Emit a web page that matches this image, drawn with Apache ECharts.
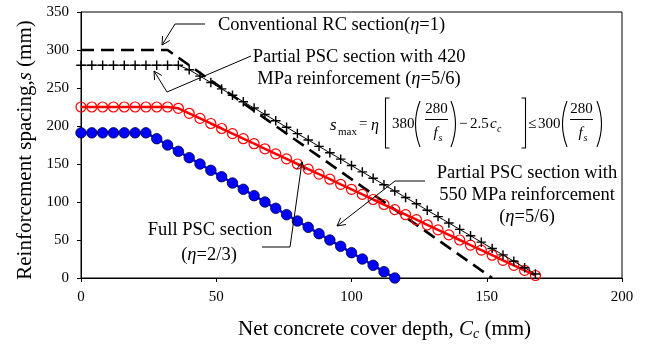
<!DOCTYPE html>
<html>
<head>
<meta charset="utf-8">
<script src="https://cdn.jsdelivr.net/npm/echarts@6.0.0/dist/echarts.min.js"></script>
<style>
  html, body { margin: 0; padding: 0; background: #fff; }
  #chart { width: 646px; height: 345px; }
</style>
</head>
<body>
<div id="chart"></div>
<script>
// Axis ticks
const xTicks = [0, 50, 100, 150, 200];
const yTicks = [0, 50, 100, 150, 200, 250, 300, 350];

// Conventional RC section (eta = 1)
const coverRC = [0, 32, 152];
const spacingRC = [300, 300, 0];

// Partial PSC section, 420 MPa reinforcement (eta = 5/6)
const cover420 = [0, 4, 8, 12, 16, 20, 24, 28, 32, 36, 40, 44, 48, 52, 56, 60, 64, 68, 72, 76, 80,
  84, 88, 92, 96, 100, 104, 108, 112, 116, 120, 124, 128, 132, 136, 140, 144, 148, 152, 156, 160, 164, 168];
const spacing420 = [280, 280, 280, 280, 280, 280, 280, 280, 280, 280, 274, 265.6, 257.2, 248.8, 240.4,
  232, 223.6, 215.2, 206.8, 198.4, 190, 181.6, 173.2, 164.8, 156.4, 148, 139.6, 131.2, 122.8, 114.4,
  106, 97.6, 89.2, 80.8, 72.4, 64, 55.6, 47.2, 38.8, 30.4, 22, 13.6, 5.2];

// Partial PSC section, 550 MPa reinforcement (eta = 5/6)
const cover550 = [0, 4, 8, 12, 16, 20, 24, 28, 32, 36, 40, 44, 48, 52, 56, 60, 64, 68, 72, 76, 80,
  84, 88, 92, 96, 100, 104, 108, 112, 116, 120, 124, 128, 132, 136, 140, 144, 148, 152, 156, 160, 164, 168];
const spacing550 = [225, 225, 225, 225, 225, 225, 225, 225, 225, 223.3, 216.7, 210, 203.3, 196.7, 190,
  183.3, 176.7, 170, 163.3, 156.7, 150, 143.3, 136.7, 130, 123.3, 116.7, 110, 103.3, 96.7, 90,
  83.3, 76.7, 70, 63.3, 56.7, 50, 43.3, 36.7, 30, 23.3, 16.7, 10, 3.3];

// Full PSC section (eta = 2/3)
const coverFull = [0, 4, 8, 12, 16, 20, 24, 28, 32, 36, 40, 44, 48, 52, 56, 60, 64, 68, 72, 76, 80,
  84, 88, 92, 96, 100, 104, 108, 112, 116];
const spacingFull = [191, 191, 191, 191, 191, 191, 191, 183.3, 175, 166.7, 158.3, 150, 141.7, 133.3,
  125, 116.7, 108.3, 100, 91.7, 83.3, 75, 66.7, 58.3, 50, 41.7, 33.3, 25, 16.7, 8.3, 0];

const serif = '"Liberation Serif", "Times New Roman", Times, serif';
const pairs = (xs, ys) => xs.map((x, i) => [x, ys[i]]);
const plusPath = 'path://M4.25,0H5.75V4.25H10V5.75H5.75V10H4.25V5.75H0V4.25H4.25Z';

// ---- annotation helpers ----
function text(x, y, str, size, align, rich, italic) {
  return {
    type: 'text', x: x, y: y, z: 100, silent: true,
    style: {
      text: str, fill: '#000', fontFamily: serif, fontSize: size,
      fontStyle: italic ? 'italic' : 'normal',
      align: align || 'left', verticalAlign: 'middle',
      textAlign: align || 'left', textVerticalAlign: 'middle',
      rich: rich || {}
    }
  };
}
function poly(points, width) {
  return {
    type: 'polyline', z: 100, silent: true,
    shape: { points: points },
    style: { stroke: '#000', lineWidth: width || 1, fill: null }
  };
}
function leader(points) {
  const n = points.length;
  const tip = points[n - 1], prev = points[n - 2];
  const dx = tip[0] - prev[0], dy = tip[1] - prev[1];
  const len = Math.hypot(dx, dy);
  const ux = dx / len, uy = dy / len;
  const L = 9, a = 28 * Math.PI / 180;
  const h1 = [tip[0] - L * (ux * Math.cos(a) - uy * Math.sin(a)), tip[1] - L * (uy * Math.cos(a) + ux * Math.sin(a))];
  const h2 = [tip[0] - L * (ux * Math.cos(a) + uy * Math.sin(a)), tip[1] - L * (uy * Math.cos(a) - ux * Math.sin(a))];
  return [poly(points), poly([h1, tip, h2])];
}
function paren(x, y1, y2, bulge) {
  return {
    type: 'bezierCurve', z: 100, silent: true,
    shape: { x1: x, y1: y1, x2: x, y2: y2, cpx1: x + bulge, cpy1: (y1 + y2) / 2 },
    style: { stroke: '#000', lineWidth: 1.1, fill: null }
  };
}
const ital = { i: { fontStyle: 'italic', fontFamily: serif, fontSize: 18.5, verticalAlign: 'middle' } };

// fraction 280 / f_s centred at cx
function frac(cx, x0, x1) {
  return [
    text(cx, 109, '280', 15, 'center'),
    poly([[x0, 119.5], [x1, 119.5]]),
    text(cx - 3, 133, 'f', 15, 'left', null, true),
    text(cx + 2, 138, 's', 10, 'left', null, true)
  ];
}

const yTitle = text(25, 150, 'Reinforcement spacing,{i|s} (mm)', 21, 'center',
  { i: { fontStyle: 'italic', fontFamily: serif, fontSize: 21 } });
yTitle.rotation = Math.PI / 2;

const graphics = [].concat(
  // axis titles
  yTitle,
  text(238, 329, 'Net concrete cover depth, {i|C}{sub|c} (mm)', 21, 'left', {
    i: { fontStyle: 'italic', fontFamily: serif, fontSize: 21, verticalAlign: 'middle' },
    sub: { fontStyle: 'italic', fontFamily: serif, fontSize: 14, verticalAlign: 'middle', padding: [10, 0, 0, 0] }
  }),

  // Conventional RC label
  text(218, 25, 'Conventional RC section({i|η}=1)', 18.5, 'left', ital),
  leader([[205, 24], [175, 24], [162, 45]]),

  // 420 MPa label
  text(359, 57, 'Partial PSC section with 420', 18.5, 'center', ital),
  text(359, 79, 'MPa reinforcement ({i|η}=5/6)', 18.5, 'center', ital),
  leader([[251, 56], [167, 92], [154, 71]]),

  // 550 MPa label
  text(527, 173, 'Partial PSC section with', 18.5, 'center', ital),
  text(527, 195, '550 MPa reinforcement', 18.5, 'center', ital),
  text(527, 217, '({i|η}=5/6)', 18.5, 'center', ital),
  leader([[425, 181], [395, 181], [337, 226]]),

  // Full PSC label
  text(210, 230, 'Full PSC section', 18.5, 'center', ital),
  text(209, 255, '({i|η}=2/3)', 18.5, 'center', ital),
  leader([[262, 247], [290, 247], [302, 162]]),

  // Code equation for maximum spacing
  text(330, 126, 's', 17, 'left', null, true),
  text(338, 132, 'max', 11),
  text(359, 124, '=', 15),
  text(371, 126, 'η', 16, 'left', null, true),
  poly([[389.5, 98], [385.5, 98], [385.5, 148], [389.5, 148]], 1.1),
  text(392, 124, '380', 15),
  paren(420, 101, 147, -9),
  frac(436.5, 425, 448),
  paren(451, 101, 147, 9),
  text(459, 124, '−', 15),
  text(470, 124, '2.5', 15),
  text(490, 124, 'c', 15, 'left', null, true),
  text(497, 129, 'c', 10, 'left', null, true),
  poly([[521.5, 98], [525.5, 98], [525.5, 148], [521.5, 148]], 1.1),
  text(528, 124, '≤', 15),
  text(538, 124, '300', 15),
  paren(567, 101, 147, -9),
  frac(581.5, 570, 593),
  paren(597, 101, 147, 9)
);

const chart = echarts.init(document.getElementById('chart'), null, { renderer: 'canvas' });
chart.setOption({
  animation: false,
  backgroundColor: '#fff',
  grid: {
    left: 81, right: 24, top: 12, bottom: 67,
    containLabel: false, outerBoundsMode: 'none',
    show: true, borderColor: '#000', borderWidth: 1, backgroundColor: 'transparent'
  },
  xAxis: {
    type: 'value',
    min: xTicks[0], max: xTicks[xTicks.length - 1], interval: xTicks[1] - xTicks[0],
    axisLine: { show: true, onZero: false, lineStyle: { color: '#000', width: 1 } },
    axisTick: { show: true, inside: false, length: 4, lineStyle: { color: '#000' } },
    axisLabel: { color: '#000', fontFamily: serif, fontSize: 15, margin: 12 },
    splitLine: { show: false }
  },
  yAxis: {
    type: 'value',
    min: yTicks[0], max: yTicks[yTicks.length - 1], interval: yTicks[1] - yTicks[0],
    axisLine: { show: true, onZero: false, lineStyle: { color: '#000', width: 1 } },
    axisTick: { show: true, inside: false, length: 4, lineStyle: { color: '#000' } },
    axisLabel: { color: '#000', fontFamily: serif, fontSize: 15, margin: 12 },
    splitLine: { show: false }
  },
  series: [
    {
      name: 'Conventional RC section', type: 'line', data: pairs(coverRC, spacingRC),
      symbol: 'none', silent: true, z: 2,
      lineStyle: { color: '#000', width: 2.6, type: [13, 7] }
    },
    {
      name: 'Partial PSC 550 MPa', type: 'line', data: pairs(cover550, spacing550),
      symbol: 'circle', symbolSize: 10, silent: true, z: 3,
      lineStyle: { color: '#ff0000', width: 2.5 },
      itemStyle: { color: 'rgba(255,255,255,0)', borderColor: '#ff0000', borderWidth: 1.2 }
    },
    {
      name: 'Partial PSC 420 MPa', type: 'line', data: pairs(cover420, spacing420),
      symbol: plusPath, symbolSize: 9.5, silent: true, z: 4,
      lineStyle: { color: '#000', width: 1 },
      itemStyle: { color: '#000' }
    },
    {
      name: 'Full PSC section', type: 'line', data: pairs(coverFull, spacingFull),
      symbol: 'circle', symbolSize: 10.5, silent: true, z: 5,
      lineStyle: { color: '#0000ff', width: 2.5 },
      itemStyle: { color: '#0000ff', borderColor: '#000033', borderWidth: 0.8 }
    }
  ],
  graphic: { elements: graphics }
});
</script>
</body>
</html>
